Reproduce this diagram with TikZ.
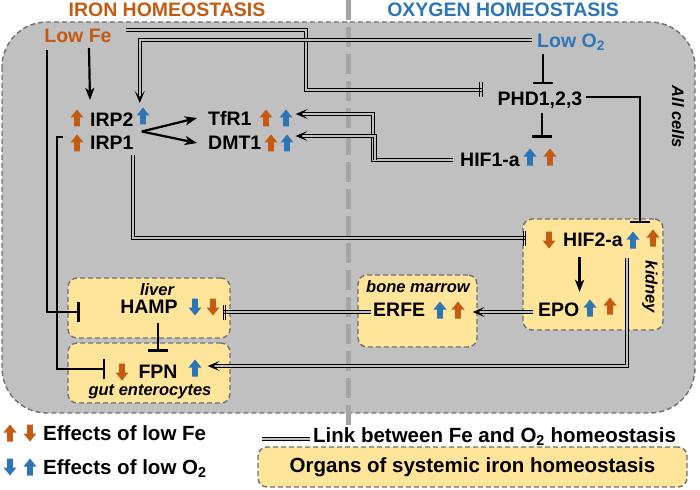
\documentclass[tikz,border=0pt]{standalone}
\usepackage{fontspec}
\setmainfont{Liberation Sans}
\usetikzlibrary{arrows.meta,positioning,calc}

\definecolor{fecol}{RGB}{197,90,17}
\definecolor{oxcol}{RGB}{46,117,182}
\definecolor{cellgray}{RGB}{192,192,192}
\definecolor{organcol}{RGB}{255,229,153}
\definecolor{edgegray}{RGB}{112,112,112}
\definecolor{splitgray}{RGB}{165,165,165}

\tikzset{
  lbl/.style={font=\bfseries\fontsize{19.5}{20}\selectfont, inner sep=0pt},
  keylbl/.style={font=\bfseries\fontsize{20.5}{21}\selectfont, inner sep=0pt},
  tag/.style={font=\bfseries\itshape\fontsize{16.5}{17}\selectfont, inner sep=0pt},
  organ/.style={draw=edgegray, fill=organcol, line width=1.4pt, dash pattern=on 5pt off 3pt, rounded corners=9pt, inner sep=0pt},
  act/.style={line width=2.2pt, -{Stealth[length=12pt,width=9pt,inset=3pt]}},
  inhib/.style={line width=2.2pt, -{Bar[width=20pt,line width=2.6pt]}},
  link/.style={double=cellgray, double distance=1.5pt, line width=1pt},
  linkact/.style={link, -{Stealth[length=12pt,width=10pt,inset=6pt]}},
  linkinhib/.style={link, -{Bar[width=15pt,sep=1.5pt]Bar[width=15pt]}},
  uparr/.pic={\fill[pic actions] (0,-8.5) -- (6.5,-0.5) -- (2.8,-0.5) -- (2.8,8.5) -- (-2.8,8.5) -- (-2.8,-0.5) -- (-6.5,-0.5) -- cycle;},
  dnarr/.pic={\fill[pic actions] (0,8.5) -- (6.5,0.5) -- (2.8,0.5) -- (2.8,-8.5) -- (-2.8,-8.5) -- (-2.8,0.5) -- (-6.5,0.5) -- cycle;},
}

\begin{document}
\begin{tikzpicture}[x=1pt,y=-1pt]
\useasboundingbox (0,0) rectangle (700,489);
% cell and split line
\draw[draw=edgegray, fill=cellgray, line width=1.4pt, dash pattern=on 5pt off 3pt, rounded corners=45pt] (2,22) rectangle (695,413);
\draw[splitgray, line width=5pt, dash pattern=on 20pt off 7pt] (348,0) -- (348,425);
\node[lbl, text=fecol] (irontitle) at (167,10) {IRON HOMEOSTASIS};
\node[lbl, text=oxcol] (oxtitle) at (503,10) {OXYGEN HOMEOSTASIS};

% organs
\node[organ, minimum width=162, minimum height=60] (liver) at (149,308) {};
\node[organ, minimum width=162, minimum height=60] (gut) at (149,373) {};
\node[organ, minimum width=119, minimum height=72] (marrow) at (417.5,311) {};
\node[organ, minimum width=140, minimum height=111] (kidney) at (593,274.5) {};

% players
\node[lbl, text=fecol] (lowfe) at (78,36) {Low Fe};
\node[lbl, text=oxcol] (lowo) at (571,42) {Low O\textsubscript{2}};
\node[lbl] (phd) at (540,100) {PHD1,2,3};
\node[lbl, anchor=west] (irptwo) at (90,120) {IRP2};
\node[lbl, anchor=west] (irpone) at (90,143) {IRP1};
\node[lbl, anchor=west] (tfr) at (208,118) {TfR1};
\node[lbl, anchor=west] (dmt) at (208,143) {DMT1};
\node[lbl, anchor=west] (hifone) at (460,160) {HIF1-a};
\node[lbl, anchor=west] (hiftwo) at (563,240) {HIF2-a};
\node[lbl, anchor=west] (epo) at (538,310) {EPO};
\node[lbl, anchor=west] (erfe) at (373,310) {ERFE};
\node[lbl] (hamp) at (149,307) {HAMP};
\node[lbl] (fpn) at (158,372) {FPN};
\node[tag] (livertag) at (157,290) {liver};
\node[tag] (marrowtag) at (418,287) {bone marrow};
\node[tag] (guttag) at (150,392) {gut enterocytes};
\node[tag, rotate=-90] (kidneytag) at (650,287) {kidney};
\node[tag, rotate=-90] (celltag) at (678,117) {All cells};

% up/down effects
\pic[fill=fecol] at (77,118) {uparr};
\pic[fill=oxcol] at (143,116) {uparr};
\pic[fill=fecol] at (77,143) {uparr};
\pic[fill=fecol] at (266,118) {uparr};
\pic[fill=oxcol] at (286,118) {uparr};
\pic[fill=fecol] at (271,143) {uparr};
\pic[fill=oxcol] at (287,143) {uparr};
\pic[fill=oxcol] at (530,157) {uparr};
\pic[fill=fecol] at (550,157) {uparr};
\pic[fill=fecol] at (549,240) {dnarr};
\pic[fill=oxcol] at (633,240) {uparr};
\pic[fill=fecol] at (653,238) {uparr};
\pic[fill=oxcol] at (590,308) {uparr};
\pic[fill=fecol] at (610,306) {uparr};
\pic[fill=oxcol] at (440,310) {uparr};
\pic[fill=fecol] at (458,310) {uparr};
\pic[fill=oxcol] at (195,307) {dnarr};
\pic[fill=fecol] at (213,307) {dnarr};
\pic[fill=fecol] at (122,372) {dnarr};
\pic[fill=oxcol] at (195,368) {uparr};

% iron side
\draw[act] ([xshift=-1pt,yshift=-5pt]lowfe.south -| irptwo.west) -- ([yshift=13pt]irptwo.north west);
\draw[inhib] ([xshift=3pt,yshift=-7pt]lowfe.south west) |- ([xshift=-40pt,yshift=-5pt]hamp.west);
\draw[inhib] ([xshift=-27pt,yshift=6pt]irpone.west) -- ++(-6,0) |- ([xshift=-33pt,yshift=3pt]fpn.west);
\coordinate (irpfork) at ($(irptwo.east)!.5!(irpone.east)+(8,0)$);
\draw[act] (irpfork) -- ([xshift=-11pt]tfr.west);
\draw[act] (irpfork) -- ([xshift=-11pt]dmt.west);
\draw[inhib] ([yshift=-9pt]fpn.north |- hamp.south) -- ([yshift=13pt]fpn.north);

% oxygen side
\draw[inhib] ([xshift=3pt,yshift=-3pt]phd.north |- lowo.south) -- ([xshift=3pt,yshift=7pt]phd.north);
\draw[inhib] ([xshift=2pt,yshift=-4pt]phd.south) -- ([xshift=2pt,yshift=15pt]phd.south |- hifone.north);
\draw[inhib, line width=2.8pt] ([xshift=4pt,yshift=3pt]phd.east) -| ([xshift=47pt,yshift=-5pt]kidney.north);
\draw[act] ([yshift=-10pt]hiftwo.south -| epo.east) -- ([yshift=11pt]epo.north east);

% Fe--O2 links
\draw[linkinhib] ([xshift=14pt,yshift=6pt]lowfe.east) -- ++(180,0) |- ([xshift=-15pt,yshift=10pt]phd.west);
\draw[linkact] ([xshift=-5pt,yshift=2pt]lowo.west) -| ([xshift=6pt,yshift=10pt]irptwo.north east);
\draw[linkact] ([xshift=-7pt]hifone.west) -- ([xshift=-87pt]hifone.west) |- ([xshift=44pt,yshift=4pt]tfr.east);
\draw[linkact] ([xshift=-85pt]hifone.west) |- ([xshift=34pt,yshift=7pt]dmt.east);
\draw[linkinhib] ([xshift=-1pt,yshift=-5pt]irpone.south east) |- ([xshift=4pt,yshift=2pt]kidney.west |- hiftwo.west);
\draw[linkact] ([xshift=-5pt,yshift=-2pt]epo.west) -- ([xshift=-5pt,yshift=-2pt]marrow.east |- erfe.east);
\draw[linkinhib] ([xshift=-2pt,yshift=-2pt]erfe.west) -- ([xshift=-8pt,yshift=-2pt]liver.east |- erfe.west);
\draw[linkact] ([xshift=4pt,yshift=-11pt]hiftwo.south east) |- ([xshift=30pt,yshift=6pt]fpn.east);

% key
\pic[fill=fecol] at (10,433) {uparr};
\pic[fill=fecol] at (30,433) {dnarr};
\pic[fill=oxcol] at (10,467) {dnarr};
\pic[fill=oxcol] at (30,467) {uparr};
\node[keylbl, anchor=west] (fekey) at (43,433) {Effects of low Fe};
\node[keylbl, anchor=west] (oxkey) at (43,469) {Effects of low O\textsubscript{2}};
\node[keylbl, anchor=west] (linkkey) at (313,437) {Link between Fe and O\textsubscript{2} homeostasis};
\draw[link] ([xshift=-51pt,yshift=-2pt]linkkey.west) -- ([xshift=-3pt,yshift=-2pt]linkkey.west);
\node[organ, keylbl, minimum width=429, minimum height=40] (organkey) at (472.5,467) {Organs of systemic iron homeostasis};
\end{tikzpicture}
\end{document}
